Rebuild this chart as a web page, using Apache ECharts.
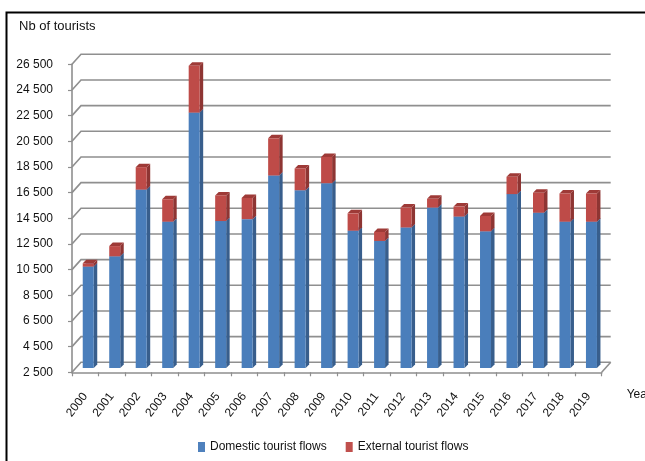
<!DOCTYPE html>
<html>
<head>
<meta charset="utf-8">
<script src="https://cdn.jsdelivr.net/npm/echarts@6/dist/echarts.min.js"></script>
<style>
  html, body { margin: 0; padding: 0; background: #fff; }
  #chart { width: 645px; height: 461px; }
</style>
</head>
<body>
<div id="chart"></div>
<script>
// Tourist flows by year, stacked: domestic at the bottom, external on top
const years = ['2000', '2001', '2002', '2003', '2004', '2005', '2006', '2007', '2008', '2009',
               '2010', '2011', '2012', '2013', '2014', '2015', '2016', '2017', '2018', '2019'];
const domestic = [10400, 11200, 16400, 13900, 22400, 13950, 14100, 17500, 16350, 16900,
                  13200, 12400, 13450, 15000, 14300, 13150, 16050, 14600, 13900, 13900];
const external = [260, 800, 1750, 1750, 3650, 2000, 1650, 2900, 1700, 2050,
                  1350, 700, 1550, 680, 780, 1200, 1350, 1550, 2200, 2200];
const yTicks = [2500, 4500, 6500, 8500, 10500, 12500, 14500, 16500, 18500, 20500, 22500, 24500, 26500];

const FONT = "'Liberation Sans', Arial, sans-serif";

// Pseudo-3D geometry (pixels)
const WALL_DX = 9, WALL_DY = -10;   // depth of the back wall
const BAR_LEFT = -2.5, BAR_W = 11;  // front face relative to band centre
const BAR_DY = -4.3;                // bars stand part way into the floor
const BAR_D = 3.5;                  // bar depth

const blueFaces = { front: '#4A7EBB', side: '#385E8C', top: '#6C94C8' };
const redFaces = { front: '#BE4B48', side: '#8E3533', top: '#9E3A37' };

function barRenderer(faces) {
  return function (params, api) {
    const i = api.value(0);
    const pLo = api.coord([i, api.value(1)]);
    const pHi = api.coord([i, api.value(2)]);
    const x0 = pLo[0] + BAR_LEFT, x1 = x0 + BAR_W;
    const yb = pLo[1] + BAR_DY, yt = pHi[1] + BAR_DY;
    const d = BAR_D;
    return {
      type: 'group',
      children: [
        { type: 'polygon', shape: { points: [[x1, yb], [x1 + d, yb - d], [x1 + d, yt - d], [x1, yt]] },
          style: { fill: faces.side } },
        { type: 'polygon', shape: { points: [[x0, yt], [x0 + d, yt - d], [x1 + d, yt - d], [x1, yt]] },
          style: { fill: faces.top } },
        { type: 'rect', shape: { x: x0, y: yt, width: BAR_W, height: yb - yt },
          style: { fill: faces.front } }
      ]
    };
  };
}

// Back wall gridlines with the diagonal joins to the front axis
function wallRenderer(params, api) {
  const v = api.value(1);
  const half = api.size([1, 0])[0] / 2;
  const pL = api.coord([0, v]);
  const pR = api.coord([years.length - 1, v]);
  const xl = pL[0] - half, xr = pR[0] + half, y = pL[1];
  const lineStyle = { stroke: '#8f8f8f', lineWidth: 1.6, fill: null };
  const children = [
    { type: 'polyline', shape: { points: [[xl, y], [xl + WALL_DX, y + WALL_DY], [xr + WALL_DX, y + WALL_DY]] },
      style: lineStyle }
  ];
  if (v === yTicks[0]) {
    children.push({ type: 'line', shape: { x1: xr, y1: y, x2: xr + WALL_DX, y2: y + WALL_DY }, style: lineStyle });
  }
  return { type: 'group', children: children };
}

function fmtThousands(v) {
  return String(v).replace(/\B(?=(\d{3})+(?!\d))/g, ' ');
}

const chart = echarts.init(document.getElementById('chart'), null, { renderer: 'canvas' });

chart.setOption({
  animation: false,
  backgroundColor: '#fff',
  title: {
    text: 'Nb of tourists',
    left: 14, top: 15,
    textStyle: { fontFamily: FONT, fontSize: 13, fontWeight: 'normal', color: '#111' }
  },
  legend: {
    data: ['Domestic tourist flows', 'External tourist flows'],
    left: 193, top: 436,
    icon: 'rect', itemWidth: 7, itemHeight: 10, itemGap: 19,
    textStyle: { fontFamily: FONT, fontSize: 12, color: '#111' }
  },
  grid: { left: 72, right: 43.3, top: 64.3, height: 308, containLabel: false, outerBoundsMode: 'none' },
  xAxis: {
    type: 'category',
    data: years,
    name: 'Year',
    nameLocation: 'end',
    nameGap: 25,
    nameTextStyle: { fontFamily: FONT, fontSize: 12, color: '#111', verticalAlign: 'top', padding: [16, 0, 0, 0] },
    axisLine: { lineStyle: { color: '#8f8f8f', width: 1.6 } },
    axisTick: { show: true, length: 4, lineStyle: { color: '#8f8f8f', width: 1.2 } },
    axisLabel: { interval: 0, rotate: 52, margin: 22, padding: [18, 0, 0, 0],
                 fontFamily: FONT, fontSize: 12, color: '#111' },
    splitLine: { show: false }
  },
  yAxis: {
    type: 'value',
    min: yTicks[0],
    max: yTicks[yTicks.length - 1],
    axisLine: { show: true, lineStyle: { color: '#8f8f8f', width: 1.6 } },
    axisTick: { show: true, length: 4, customValues: yTicks, lineStyle: { color: '#8f8f8f', width: 1.2 } },
    axisLabel: { customValues: yTicks, margin: 19, fontFamily: FONT, fontSize: 12, color: '#111',
                 formatter: fmtThousands },
    splitLine: { show: false }
  },
  series: [
    {
      name: 'wall',
      type: 'custom',
      silent: true,
      z: 1,
      renderItem: wallRenderer,
      encode: { x: 0, y: 1 },
      data: yTicks.map(v => [0, v])
    },
    {
      name: 'Domestic tourist flows',
      type: 'custom',
      z: 2,
      itemStyle: { color: '#4F81BD' },
      renderItem: barRenderer(blueFaces),
      encode: { x: 0, y: [1, 2] },
      data: years.map((y, i) => [i, yTicks[0], domestic[i]])
    },
    {
      name: 'External tourist flows',
      type: 'custom',
      z: 3,
      itemStyle: { color: '#C0504D' },
      renderItem: barRenderer(redFaces),
      encode: { x: 0, y: [1, 2] },
      data: years.map((y, i) => [i, domestic[i], domestic[i] + external[i]])
    }
  ],
  graphic: [
    { type: 'rect', z: 100, silent: true,
      shape: { x: 6.5, y: 12.5, width: 700, height: 500 },
      style: { fill: null, stroke: '#000', lineWidth: 2 } }
  ]
});
</script>
</body>
</html>
